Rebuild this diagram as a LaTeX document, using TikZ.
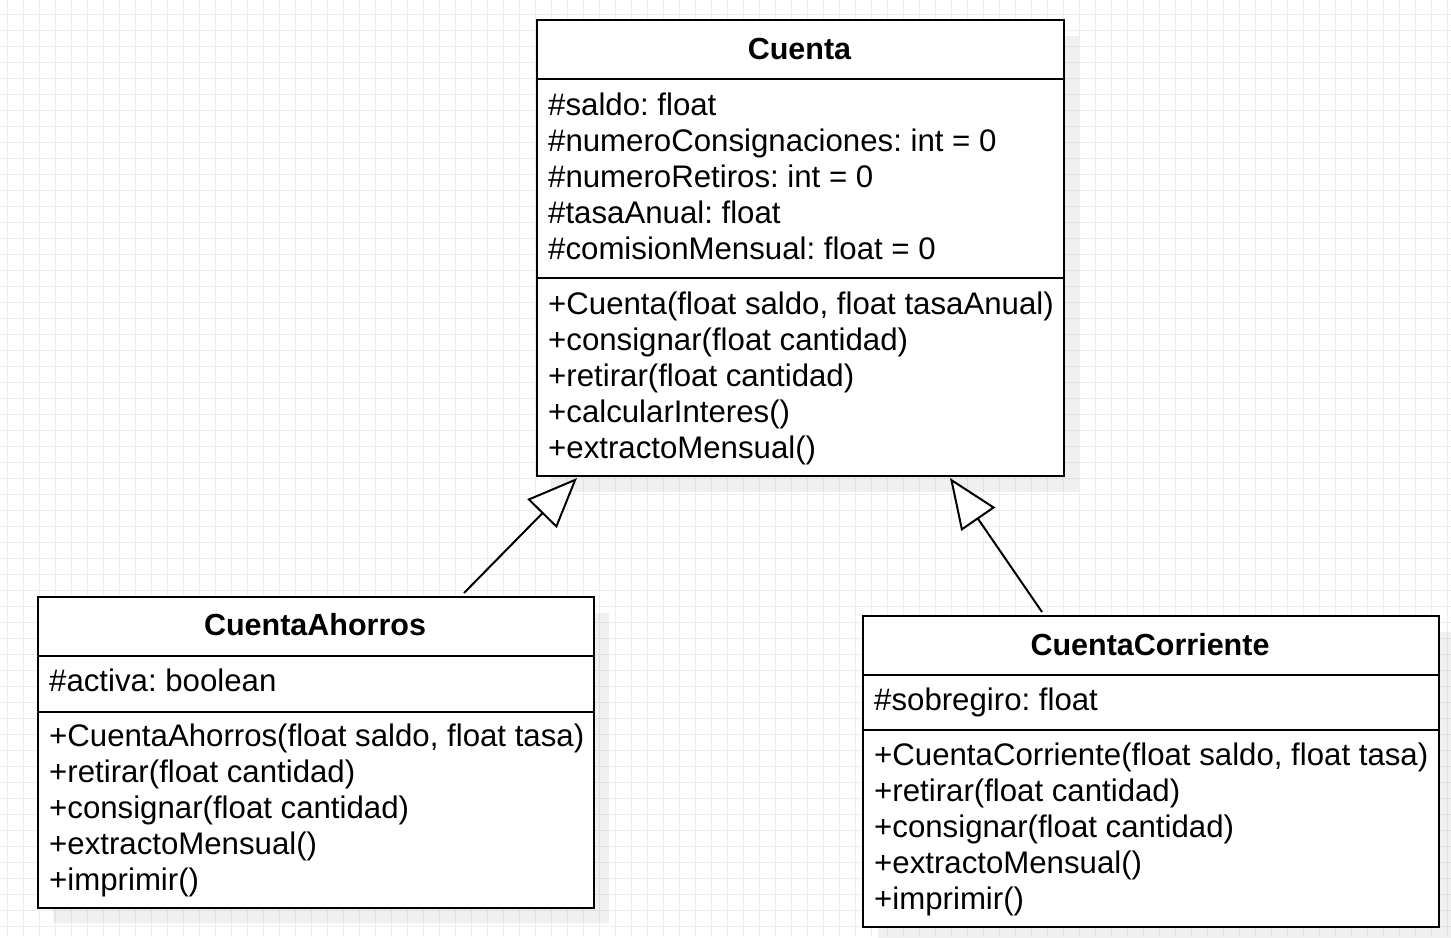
\documentclass[tikz,border=0pt]{standalone}
\usepackage{fontspec}
\setmainfont{Liberation Sans}
\usetikzlibrary{arrows.meta,calc}
\frenchspacing
\begin{document}
\frenchspacing
\begin{tikzpicture}[x=1pt,y=-1pt,
  gridline/.style={draw=black!7, line width=1pt},
  shadowbox/.style={fill=black, fill opacity=0.06, draw=none},
  classbox/.style={draw=black, line width=2pt, fill=white, rectangle, inner sep=0pt, anchor=north west},
  divider/.style={draw=black, line width=2pt},
  member/.style={anchor=base west, inner sep=0pt, font=\fontsize{31.2}{36}\selectfont\frenchspacing},
  classtitle/.style={anchor=base, inner sep=0pt, font=\fontsize{30.5}{36}\selectfont\bfseries},
  inherit/.style={draw=black, line width=2pt, -{Triangle[length=50pt, width=41pt, fill=white]}}
]
\useasboundingbox (0,0) rectangle (1451,937);
% grid background
\begin{scope}
\clip (0,0) rectangle (1451,937);
\foreach \x in {7,23,...,1451} \draw[gridline] (\x,0) -- (\x,937);
\foreach \y in {14,30,...,937} \draw[gridline] (0,\y) -- (1451,\y);
\end{scope}
% shadows
\fill[shadowbox] (552,36) rectangle (1079,492);
\fill[shadowbox] (53,613) rectangle (609,923);
\fill[shadowbox] (878,632) rectangle (1454,943);
% class boxes
\node[classbox, minimum width=527pt, minimum height=456pt] (cuenta) at (536,19) {};
\node[classbox, minimum width=556pt, minimum height=311pt] (ahorros) at (37,596) {};
\node[classbox, minimum width=576pt, minimum height=311pt] (corriente) at (862,615) {};
% dividers
\draw[divider] ([yshift=-60pt]cuenta.north west) -- ([yshift=-60pt]cuenta.north east);
\draw[divider] ([yshift=-259pt]cuenta.north west) -- ([yshift=-259pt]cuenta.north east);
\draw[divider] ([yshift=-60pt]ahorros.north west) -- ([yshift=-60pt]ahorros.north east);
\draw[divider] ([yshift=-116pt]ahorros.north west) -- ([yshift=-116pt]ahorros.north east);
\draw[divider] ([yshift=-60pt]corriente.north west) -- ([yshift=-60pt]corriente.north east);
\draw[divider] ([yshift=-115pt]corriente.north west) -- ([yshift=-115pt]corriente.north east);
% titles
\node[classtitle] (tcuenta) at (799.5,59) {Cuenta};
\node[classtitle] (tahorros) at (315,635) {CuentaAhorros};
\node[classtitle] (tcorriente) at (1150,655) {CuentaCorriente};
% Cuenta members
\foreach \t [count=\i] in {{\#saldo: float},{\#numeroConsignaciones: int = 0},{\#numeroRetiros: int = 0},{\#tasaAnual: float},{\#comisionMensual: float = 0}}
  \node[member] (ca\i) at (548,{115+36*(\i-1)}) {\t};
\foreach \t [count=\i] in {{+Cuenta(float saldo, float tasaAnual)},{+consignar(float cantidad)},{+retirar(float cantidad)},{+calcularInteres()},{+extractoMensual()}}
  \node[member] (cm\i) at (548,{314+36*(\i-1)}) {\t};
% CuentaAhorros members
\node[member] (aa1) at (49,691) {\#activa: boolean};
\foreach \t [count=\i] in {{+CuentaAhorros(float saldo, float tasa)},{+retirar(float cantidad)},{+consignar(float cantidad)},{+extractoMensual()},{+imprimir()}}
  \node[member] (am\i) at (49,{746+36*(\i-1)}) {\t};
% CuentaCorriente members
\node[member] (ra1) at (874,710) {\#sobregiro: float};
\foreach \t [count=\i] in {{+CuentaCorriente(float saldo, float tasa)},{+retirar(float cantidad)},{+consignar(float cantidad)},{+extractoMensual()},{+imprimir()}}
  \node[member] (rm\i) at (874,{765+36*(\i-1)}) {\t};
% inheritance
\coordinate (s1) at ($(ahorros.north west)+(427,-3)$);
\coordinate (t1) at ($(cuenta.south west)+(41,1)$);
\coordinate (s2) at ($(corriente.north west)+(180,-3)$);
\coordinate (t2) at ($(cuenta.south west)+(414,1)$);
\draw[inherit] (s1) -- (t1);
\draw[inherit] (s2) -- (t2);
\end{tikzpicture}
\end{document}
